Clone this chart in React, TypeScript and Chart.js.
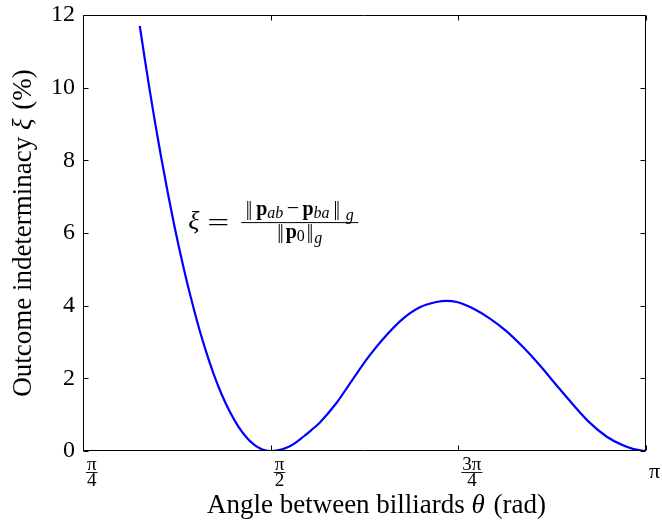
import React, { useEffect, useRef } from 'react';
import { Chart, registerables } from 'chart.js';

Chart.register(...registerables);

// ---- data ----
const thetaRad = [
  1.023, 1.044, 1.065, 1.086, 1.111, 1.141, 1.169, 1.204, 1.225, 1.253,
  1.274, 1.300, 1.330, 1.365, 1.400, 1.435, 1.469, 1.500, 1.525, 1.548,
  1.571, 1.600, 1.637, 1.670, 1.706, 1.740, 1.776, 1.846, 1.915, 1.985,
  2.055, 2.125, 2.195, 2.264, 2.306, 2.350, 2.418, 2.487, 2.557, 2.627,
  2.697, 2.767, 2.836, 2.906, 2.976, 3.045, 3.090, 3.129, 3.1416,
];
const xiPercent = [
  11.70, 10.79, 9.91, 9.08, 8.14, 7.08, 6.16, 5.11, 4.53, 3.81,
  3.31, 2.75, 2.16, 1.57, 1.08, 0.68, 0.38, 0.18, 0.076, 0.019,
  0.0, 0.018, 0.09, 0.205, 0.385, 0.57, 0.78, 1.32, 1.98, 2.63,
  3.185, 3.644, 3.955, 4.10, 4.134, 4.10, 3.92, 3.65, 3.30, 2.86,
  2.36, 1.81, 1.28, 0.78, 0.40, 0.155, 0.05, 0.005, 0.0,
];

const yMin = 0;
const yMax = 12;
const yStep = 2;
const xTickValues = [Math.PI / 4, Math.PI / 2, (3 * Math.PI) / 4, Math.PI];
const xTickNumerators = ['π', 'π', '3π', 'π'];
const xTickDenominators = ['4', '2', '4', ''];
const xTitleParts = ['Angle between billiards ', 'θ', ' (rad)'];
const yTitleParts = ['Outcome indeterminacy ', 'ξ', ' (%)'];
const formulaAnchorTheta = 1.23;
const formulaAnchorXi = 6.3;

const SERIF = "'Liberation Serif', 'Times New Roman', 'DejaVu Serif', serif";

type Run = { t: string; f: string; dy?: number; gap?: number; flex?: number };

function runsWidth(ctx: CanvasRenderingContext2D, runs: Run[]) {
  let w = 0;
  for (const r of runs) {
    ctx.font = r.f;
    w += ctx.measureText(r.t).width + (r.gap || 0);
  }
  return w;
}
function drawRuns(ctx: CanvasRenderingContext2D, runs: Run[], x: number, y: number, extra = 0) {
  const flexSum = runs.reduce((s, r) => s + (r.flex || 0), 0) || 1;
  for (const r of runs) {
    ctx.font = r.f;
    ctx.fillText(r.t, x, y + (r.dy || 0));
    x += ctx.measureText(r.t).width + (r.gap || 0) + (extra * (r.flex || 0)) / flexSum;
  }
}

function titleRuns(parts: string[], size: number): Run[] {
  return [
    { t: parts[0], f: `${size}px ${SERIF}` },
    { t: parts[1], f: `italic ${size}px ${SERIF}`, gap: 2 },
    { t: parts[2], f: `${size}px ${SERIF}` },
  ];
}

const framePlugin = {
  id: 'frameAndLabels',
  afterDraw(chart: any) {
    const { ctx, chartArea: a, scales } = chart;
    const xs = scales.x;
    const ys = scales.y;
    ctx.save();
    // frame
    ctx.strokeStyle = '#000';
    ctx.lineWidth = 1;
    const L = Math.round(a.left) + 0.5;
    const R = Math.round(a.right) - 0.5;
    const T = Math.round(a.top) + 0.5;
    const B = Math.round(a.bottom) - 0.5;
    ctx.beginPath();
    ctx.rect(L, T, R - L, B - T);
    // inward ticks
    const tl = 5;
    for (let v = yMin; v <= yMax; v += yStep) {
      const py = Math.round(ys.getPixelForValue(v)) + 0.5;
      ctx.moveTo(L, py);
      ctx.lineTo(L + tl, py);
      ctx.moveTo(R, py);
      ctx.lineTo(R - tl, py);
    }
    for (const v of xTickValues) {
      const px = Math.round(xs.getPixelForValue(v)) + 0.5;
      ctx.moveTo(px, B);
      ctx.lineTo(px, B - tl);
      ctx.moveTo(px, T);
      ctx.lineTo(px, T + tl);
    }
    ctx.stroke();

    // x tick labels (fractions)
    ctx.fillStyle = '#000';
    ctx.textBaseline = 'middle';
    ctx.textAlign = 'left';
    xTickValues.forEach((v, i) => {
      ctx.font = `19px ${SERIF}`;
      const px = xs.getPixelForValue(v) + 3;
      const num = xTickNumerators[i];
      const den = xTickDenominators[i];
      const base = a.bottom;
      if (den) {
        const wn = ctx.measureText(num).width;
        const wd = ctx.measureText(den).width;
        const w = Math.max(wn, wd) + 2;
        ctx.fillText(num, px + (w - wn) / 2, base + 14);
        ctx.fillText(den, px + (w - wd) / 2, base + 30);
        ctx.beginPath();
        ctx.lineWidth = 0.9;
        ctx.moveTo(px, base + 21.5);
        ctx.lineTo(px + w, base + 21.5);
        ctx.stroke();
      } else {
        ctx.font = `22px ${SERIF}`;
        ctx.fillText(num, px, base + 21.5);
      }
    });

    // axis titles
    ctx.textBaseline = 'alphabetic';
    const tSize = 27;
    const xr = titleRuns(xTitleParts, tSize);
    const xw = runsWidth(ctx, xr);
    const xc = (a.left + a.right) / 2 + 12;
    drawRuns(ctx, xr, xc - xw / 2, a.bottom + 62);
    const yr = titleRuns(yTitleParts, tSize);
    const yw = runsWidth(ctx, yr);
    const yc = (a.top + a.bottom) / 2;
    ctx.save();
    ctx.translate(31, yc + yw / 2);
    ctx.rotate(-Math.PI / 2);
    drawRuns(ctx, yr, 0, 0);
    ctx.restore();

    // formula annotation
    const x0 = xs.getPixelForValue(formulaAnchorTheta);
    const ym = ys.getPixelForValue(formulaAnchorXi);
    ctx.font = `italic 26px ${SERIF}`;
    ctx.fillText('ξ', x0 - 1, ym + 7);
    ctx.font = `26px ${SERIF}`;
    ctx.save();
    ctx.translate(x0 + 18, ym + 9);
    ctx.scale(1.5, 1);
    ctx.fillText('=', 0, 0);
    ctx.restore();
    const bar = `20px ${SERIF}`;
    const minus = `22px ${SERIF}`;
    const bold = `bold 20px ${SERIF}`;
    const sub = `italic 16px ${SERIF}`;
    const subUp = `16px ${SERIF}`;
    const numRuns: Run[] = [
      { t: '|', f: bar, gap: -1.5 },
      { t: '|', f: bar, gap: 1.5, flex: 1 },
      { t: 'p', f: bold },
      { t: 'ab', f: sub, dy: 3, gap: 1, flex: 1 },
      { t: '−', f: minus, gap: 1, flex: 1 },
      { t: 'p', f: bold },
      { t: 'ba', f: sub, dy: 3, gap: 1.5, flex: 1 },
      { t: '|', f: bar, gap: -1.5 },
      { t: '|', f: bar, gap: 1, flex: 2 },
      { t: 'g', f: sub, dy: 5 },
    ];
    const denRuns: Run[] = [
      { t: '|', f: bar, gap: -1.5 },
      { t: '|', f: bar, gap: 2 },
      { t: 'p', f: bold },
      { t: '0', f: subUp, dy: 3, gap: 2 },
      { t: '|', f: bar, gap: -1.5 },
      { t: '|', f: bar, gap: 1 },
      { t: 'g', f: sub, dy: 5 },
    ];
    const barL = x0 + 52;
    const targetW = 108;
    const barW = 117;
    const wn = runsWidth(ctx, numRuns);
    const extra = Math.max(0, targetW - wn);
    const wnTot = wn + extra;
    const wd = runsWidth(ctx, denRuns);
    drawRuns(ctx, numRuns, barL + (barW - wnTot) / 2, ym - 7, extra);
    drawRuns(ctx, denRuns, barL + (barW - wd) / 2, ym + 16);
    ctx.beginPath();
    ctx.lineWidth = 1;
    ctx.moveTo(barL, ym + 0.5);
    ctx.lineTo(barL + Math.max(barW, wnTot, wd), ym + 0.5);
    ctx.stroke();
    ctx.restore();
  },
};

export default function App() {
  const canvasRef = useRef<HTMLCanvasElement | null>(null);

  useEffect(() => {
    if (!canvasRef.current) return;
    const points = thetaRad.map((x, i) => ({ x, y: xiPercent[i] }));
    const chart = new Chart(canvasRef.current, {
      type: 'line',
      data: {
        datasets: [
          {
            data: points,
            borderColor: '#0000ff',
            borderWidth: 2.2,
            pointRadius: 0,
            fill: false,
            cubicInterpolationMode: 'monotone',
          },
        ],
      },
      options: {
        animation: false,
        responsive: true,
        maintainAspectRatio: false,
        layout: { padding: { top: 15, right: 16, left: 0, bottom: 0 } },
        plugins: { legend: { display: false }, tooltip: { enabled: false } },
        scales: {
          x: {
            type: 'linear',
            min: Math.PI / 4,
            max: Math.PI,
            afterBuildTicks: (scale: any) => {
              scale.ticks = xTickValues.map((value) => ({ value }));
            },
            afterFit: (scale: any) => {
              scale.height = 71;
              scale.paddingLeft = 0;
              scale.paddingRight = 0;
            },
            grid: { display: false, drawTicks: false },
            border: { display: false },
            ticks: { display: false },
            title: { display: false },
          },
          y: {
            min: yMin,
            max: yMax,
            afterFit: (scale: any) => {
              scale.width = 83;
              scale.paddingTop = 0;
              scale.paddingBottom = 0;
            },
            grid: { display: false, drawTicks: false },
            border: { display: false },
            ticks: {
              stepSize: yStep,
              color: '#000',
              padding: 8,
              font: { family: SERIF, size: 24 },
            },
            title: { display: false },
          },
        },
      },
      plugins: [framePlugin],
    });
    return () => chart.destroy();
  }, []);

  return (
    <div style={{ position: 'absolute', left: 0, top: 0, width: 662, height: 522, background: '#fff' }}>
      <canvas ref={canvasRef} />
    </div>
  );
}
